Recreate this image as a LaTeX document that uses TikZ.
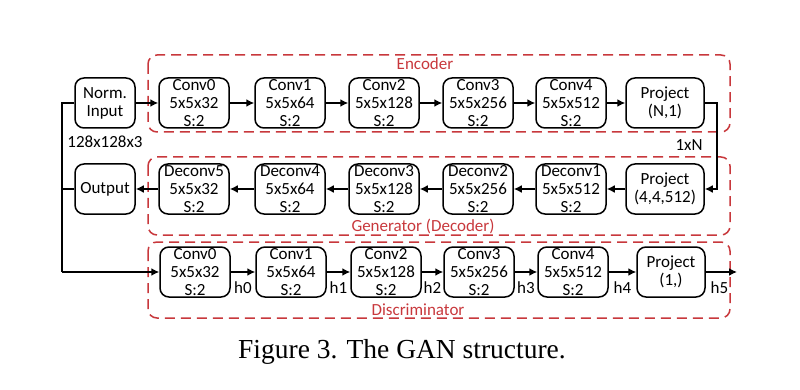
\documentclass[tikz,border=0pt]{standalone}
\usepackage{fontspec}
\setmainfont{Carlito}
\newfontfamily\capfont{Liberation Serif}
\usepackage{xcolor}
\definecolor{ganred}{HTML}{C8383C}
\usepackage{tikz}
\usetikzlibrary{arrows.meta, positioning, calc}

\begin{document}
\begin{tikzpicture}[x=1pt, y=-1pt,
    blk/.style={draw, rounded corners=9pt, line width=1.5pt, inner sep=0pt,
      minimum width=70pt, minimum height=50pt, align=center,
      font=\fontsize{17}{18}\selectfont},
    grp/.style={draw=ganred, dashed, dash pattern=on 10pt off 6pt,
      line width=1.5pt, rounded corners=9pt},
    grplbl/.style={text=ganred, font=\fontsize{17}{18}\selectfont},
    lbl/.style={font=\fontsize{17}{18}\selectfont},
    flow/.style={line width=1.9pt, -{Latex[length=8pt, width=8pt]}},
    wire/.style={line width=1.9pt}]
  \useasboundingbox (0,0) rectangle (800,390);
  % dashed groups
  \draw[grp] (148,55) rectangle (730,132);
  \draw[grp] (148,157) rectangle (730,235);
  \draw[grp] (148,242) rectangle (730,318);
  \node[grplbl] (encl) at (425,64) {Encoder};
  \node[grplbl] (decl) at (423,226) {Generator (Decoder)};
  \node[grplbl] (disl) at (418,310) {Discriminator};
  % encoder row
  \node[blk, minimum width=60pt] (in) at (105,103) {Norm.\\Input};
  \node[blk] (e0) at (194,103) {Conv0\\5x5x32\\S:2};
  \node[blk] (e1) at (290,103) {Conv1\\5x5x64\\S:2};
  \node[blk] (e2) at (384,103) {Conv2\\5x5x128\\S:2};
  \node[blk] (e3) at (478,103) {Conv3\\5x5x256\\S:2};
  \node[blk] (e4) at (571,103) {Conv4\\5x5x512\\S:2};
  \node[blk, minimum width=78pt] (pe) at (665,103) {Project\\(N,1)};
  % decoder row
  \node[blk, minimum width=60pt] (out) at (105,189) {Output};
  \node[blk] (g5) at (194,189) {Deconv5\\5x5x32\\S:2};
  \node[blk] (g4) at (290,189) {Deconv4\\5x5x64\\S:2};
  \node[blk] (g3) at (384,189) {Deconv3\\5x5x128\\S:2};
  \node[blk] (g2) at (478,189) {Deconv2\\5x5x256\\S:2};
  \node[blk] (g1) at (571,189) {Deconv1\\5x5x512\\S:2};
  \node[blk, minimum width=78pt] (pd) at (665,189) {Project\\(4,4,512)};
  % discriminator row
  \node[blk] (d0) at (195,272) {Conv0\\5x5x32\\S:2};
  \node[blk] (d1) at (291,272) {Conv1\\5x5x64\\S:2};
  \node[blk] (d2) at (386,272) {Conv2\\5x5x128\\S:2};
  \node[blk] (d3) at (479,272) {Conv3\\5x5x256\\S:2};
  \node[blk] (d4) at (573,272) {Conv4\\5x5x512\\S:2};
  \node[blk, minimum width=68pt] (pr) at (671,272) {Project\\(1,)};
  % side labels
  \node[lbl] (insz) at (105,142) {128x128x3};
  \node[lbl] (zsz) at (689,145) {1xN};
  % encoder arrows
  \draw[flow] (in) -- (e0);
  \draw[flow] (e0) -- (e1);
  \draw[flow] (e1) -- (e2);
  \draw[flow] (e2) -- (e3);
  \draw[flow] (e3) -- (e4);
  \draw[flow] (e4) -- (pe);
  % latent code to decoder
  \coordinate (turn) at (717,103);
  \draw[flow] (pe.east) -- (turn) |- (pd.east);
  % decoder arrows
  \draw[flow] (pd) -- (g1);
  \draw[flow] (g1) -- (g2);
  \draw[flow] (g2) -- (g3);
  \draw[flow] (g3) -- (g4);
  \draw[flow] (g4) -- (g5);
  \draw[flow] (g5) -- (out);
  % real and generated images into discriminator
  \coordinate (trunk) at (62,272);
  \draw[wire] (in.west) -| (trunk);
  \draw[wire] (out.west) -- (out.west -| trunk);
  \draw[flow] (trunk) -- (d0.west);
  % discriminator arrows
  \draw[flow] (d0) -- node[lbl, below=5pt] (h0) {h0} (d1);
  \draw[flow] (d1) -- node[lbl, below=5pt] (h1) {h1} (d2);
  \draw[flow] (d2) -- node[lbl, below=5pt] (h2) {h2} (d3);
  \draw[flow] (d3) -- node[lbl, below=5pt] (h3) {h3} (d4);
  \draw[flow] (d4) -- node[lbl, below=5pt] (h4) {h4} (pr);
  \coordinate (fin) at (737,272);
  \draw[flow] (pr) -- node[lbl, below=5pt, xshift=-2pt] (h5) {h5} (fin);
  % caption
  \node[font=\capfont\fontsize{27.5}{30}\selectfont] (cap) at (402,352)
    {Figure 3. The GAN structure.};
\end{tikzpicture}
\end{document}
